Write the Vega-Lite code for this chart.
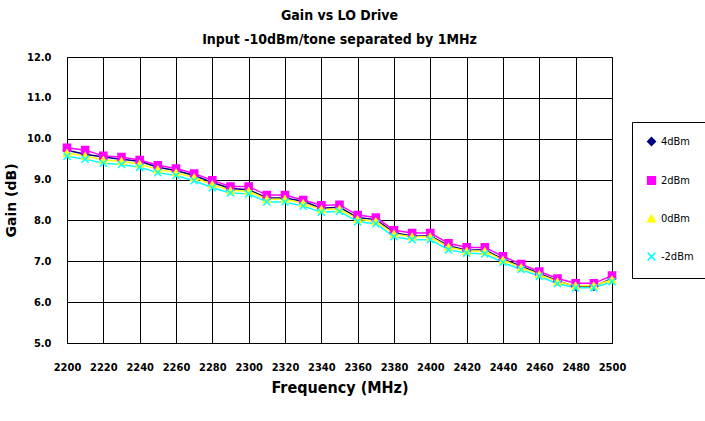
{
  "$schema": "https://vega.github.io/schema/vega-lite/v6.json",
  "width": 545,
  "height": 286,
  "autosize": {"type": "none"},
  "padding": {"left": 67, "top": 57, "right": 93, "bottom": 78},
  "background": "white",
  "title": {
    "text": ["Gain vs LO Drive", "Input -10dBm/tone separated by 1MHz"],
    "font": "DejaVu Sans Condensed",
    "fontSize": 14,
    "fontWeight": "bold",
    "lineHeight": 24,
    "color": "black",
    "anchor": "middle",
    "frame": "group",
    "offset": 4
  },
  "datasets": {
    "gain": [
      {"f":2200,"s":"4dBm","g":9.72},{"f":2210,"s":"4dBm","g":9.62},{"f":2220,"s":"4dBm","g":9.55},{"f":2230,"s":"4dBm","g":9.5},{"f":2240,"s":"4dBm","g":9.45},{"f":2250,"s":"4dBm","g":9.3},{"f":2260,"s":"4dBm","g":9.22},{"f":2270,"s":"4dBm","g":9.1},{"f":2280,"s":"4dBm","g":8.93},{"f":2290,"s":"4dBm","g":8.78},{"f":2300,"s":"4dBm","g":8.75},{"f":2310,"s":"4dBm","g":8.55},{"f":2320,"s":"4dBm","g":8.55},{"f":2330,"s":"4dBm","g":8.47},{"f":2340,"s":"4dBm","g":8.3},{"f":2350,"s":"4dBm","g":8.32},{"f":2360,"s":"4dBm","g":8.07},{"f":2370,"s":"4dBm","g":8.02},{"f":2380,"s":"4dBm","g":7.7},{"f":2390,"s":"4dBm","g":7.62},{"f":2400,"s":"4dBm","g":7.62},{"f":2410,"s":"4dBm","g":7.38},{"f":2420,"s":"4dBm","g":7.27},{"f":2430,"s":"4dBm","g":7.28},{"f":2440,"s":"4dBm","g":7.05},{"f":2450,"s":"4dBm","g":6.88},{"f":2460,"s":"4dBm","g":6.7},{"f":2470,"s":"4dBm","g":6.52},{"f":2480,"s":"4dBm","g":6.38},{"f":2490,"s":"4dBm","g":6.38},{"f":2500,"s":"4dBm","g":6.58},
      {"f":2200,"s":"2dBm","g":9.78},{"f":2210,"s":"2dBm","g":9.72},{"f":2220,"s":"2dBm","g":9.58},{"f":2230,"s":"2dBm","g":9.55},{"f":2240,"s":"2dBm","g":9.48},{"f":2250,"s":"2dBm","g":9.35},{"f":2260,"s":"2dBm","g":9.27},{"f":2270,"s":"2dBm","g":9.15},{"f":2280,"s":"2dBm","g":8.98},{"f":2290,"s":"2dBm","g":8.83},{"f":2300,"s":"2dBm","g":8.83},{"f":2310,"s":"2dBm","g":8.62},{"f":2320,"s":"2dBm","g":8.62},{"f":2330,"s":"2dBm","g":8.5},{"f":2340,"s":"2dBm","g":8.37},{"f":2350,"s":"2dBm","g":8.38},{"f":2360,"s":"2dBm","g":8.13},{"f":2370,"s":"2dBm","g":8.07},{"f":2380,"s":"2dBm","g":7.76},{"f":2390,"s":"2dBm","g":7.69},{"f":2400,"s":"2dBm","g":7.69},{"f":2410,"s":"2dBm","g":7.44},{"f":2420,"s":"2dBm","g":7.34},{"f":2430,"s":"2dBm","g":7.34},{"f":2440,"s":"2dBm","g":7.12},{"f":2450,"s":"2dBm","g":6.93},{"f":2460,"s":"2dBm","g":6.75},{"f":2470,"s":"2dBm","g":6.58},{"f":2480,"s":"2dBm","g":6.46},{"f":2490,"s":"2dBm","g":6.46},{"f":2500,"s":"2dBm","g":6.65},
      {"f":2200,"s":"0dBm","g":9.65},{"f":2210,"s":"0dBm","g":9.58},{"f":2220,"s":"0dBm","g":9.48},{"f":2230,"s":"0dBm","g":9.45},{"f":2240,"s":"0dBm","g":9.38},{"f":2250,"s":"0dBm","g":9.25},{"f":2260,"s":"0dBm","g":9.17},{"f":2270,"s":"0dBm","g":9.05},{"f":2280,"s":"0dBm","g":8.88},{"f":2290,"s":"0dBm","g":8.73},{"f":2300,"s":"0dBm","g":8.72},{"f":2310,"s":"0dBm","g":8.52},{"f":2320,"s":"0dBm","g":8.52},{"f":2330,"s":"0dBm","g":8.42},{"f":2340,"s":"0dBm","g":8.27},{"f":2350,"s":"0dBm","g":8.28},{"f":2360,"s":"0dBm","g":8.03},{"f":2370,"s":"0dBm","g":7.98},{"f":2380,"s":"0dBm","g":7.67},{"f":2390,"s":"0dBm","g":7.6},{"f":2400,"s":"0dBm","g":7.6},{"f":2410,"s":"0dBm","g":7.35},{"f":2420,"s":"0dBm","g":7.25},{"f":2430,"s":"0dBm","g":7.25},{"f":2440,"s":"0dBm","g":7.03},{"f":2450,"s":"0dBm","g":6.85},{"f":2460,"s":"0dBm","g":6.68},{"f":2470,"s":"0dBm","g":6.5},{"f":2480,"s":"0dBm","g":6.4},{"f":2490,"s":"0dBm","g":6.4},{"f":2500,"s":"0dBm","g":6.55},
      {"f":2200,"s":"-2dBm","g":9.57},{"f":2210,"s":"-2dBm","g":9.5},{"f":2220,"s":"-2dBm","g":9.4},{"f":2230,"s":"-2dBm","g":9.37},{"f":2240,"s":"-2dBm","g":9.3},{"f":2250,"s":"-2dBm","g":9.17},{"f":2260,"s":"-2dBm","g":9.1},{"f":2270,"s":"-2dBm","g":8.97},{"f":2280,"s":"-2dBm","g":8.8},{"f":2290,"s":"-2dBm","g":8.67},{"f":2300,"s":"-2dBm","g":8.65},{"f":2310,"s":"-2dBm","g":8.45},{"f":2320,"s":"-2dBm","g":8.45},{"f":2330,"s":"-2dBm","g":8.35},{"f":2340,"s":"-2dBm","g":8.2},{"f":2350,"s":"-2dBm","g":8.22},{"f":2360,"s":"-2dBm","g":7.97},{"f":2370,"s":"-2dBm","g":7.92},{"f":2380,"s":"-2dBm","g":7.6},{"f":2390,"s":"-2dBm","g":7.53},{"f":2400,"s":"-2dBm","g":7.53},{"f":2410,"s":"-2dBm","g":7.28},{"f":2420,"s":"-2dBm","g":7.2},{"f":2430,"s":"-2dBm","g":7.18},{"f":2440,"s":"-2dBm","g":6.97},{"f":2450,"s":"-2dBm","g":6.8},{"f":2460,"s":"-2dBm","g":6.63},{"f":2470,"s":"-2dBm","g":6.45},{"f":2480,"s":"-2dBm","g":6.35},{"f":2490,"s":"-2dBm","g":6.35},{"f":2500,"s":"-2dBm","g":6.5}
    ]
  },
  "data": {"name": "gain"},
  "config": {
    "view": {"stroke": "black", "strokeWidth": 1},
    "font": "DejaVu Sans Condensed"
  },
  "encoding": {
    "x": {
      "field": "f", "type": "quantitative",
      "scale": {"domain": [2200, 2500], "nice": false, "zero": false},
      "axis": {
        "values": [2200,2220,2240,2260,2280,2300,2320,2340,2360,2380,2400,2420,2440,2460,2480,2500],
        "format": "d",
        "title": "Frequency (MHz)",
        "titleFontSize": 16, "titleFontWeight": "bold", "titleColor": "black", "titlePadding": 7,
        "labelFontSize": 11, "labelFontWeight": "bold", "labelColor": "black", "labelPadding": 18,
        "labelFlush": false,
        "ticks": false, "domainColor": "black",
        "grid": true, "gridColor": "black", "gridWidth": 1, "gridOpacity": 1
      }
    },
    "y": {
      "field": "g", "type": "quantitative",
      "scale": {"domain": [5, 12], "nice": false, "zero": false},
      "axis": {
        "values": [5,6,7,8,9,10,11,12], "format": ".1f",
        "title": "Gain (dB)",
        "titleFont": "DejaVu Sans",
        "titleFontSize": 14, "titleFontWeight": "bold", "titleColor": "black", "titlePadding": 8,
        "labelFontSize": 11, "labelFontWeight": "bold", "labelColor": "black", "labelPadding": 16,
        "ticks": false, "domainColor": "black",
        "grid": true, "gridColor": "black", "gridWidth": 1, "gridOpacity": 1
      }
    },
    "color": {
      "field": "s", "type": "nominal",
      "scale": {"domain": ["4dBm","2dBm","0dBm","-2dBm"], "range": ["#000080","#FF00FF","#FFFF00","#00FFFF"]},
      "legend": {
        "title": null,
        "orient": "none", "legendX": 565, "legendY": 65,
        "strokeColor": "black", "padding": 14,
        "rowPadding": 24, "labelOffset": 4,
        "labelFontSize": 11, "labelColor": "black",
        "symbolSize": 60, "symbolStrokeWidth": 1.5
      }
    },
    "detail": {"field": "s"}
  },
  "layer": [
    {
      "mark": {"type": "line", "strokeWidth": 1.5},
      "encoding": {"order": {"field": "f"}}
    },
    {
      "mark": {"type": "point", "filled": false, "strokeWidth": 1.5, "size": 50, "opacity": 1},
      "encoding": {
        "shape": {
          "field": "s", "type": "nominal",
          "scale": {"domain": ["4dBm","2dBm","0dBm","-2dBm"], "range": ["diamond","square","triangle-up","M-1,-1L1,1M-1,1L1,-1"]},
          "legend": null
        },
        "fill": {
          "field": "s", "type": "nominal",
          "scale": {"domain": ["4dBm","2dBm","0dBm","-2dBm"], "range": ["#000080","#FF00FF","#FFFF00","transparent"]},
          "legend": null
        }
      }
    }
  ]
}
